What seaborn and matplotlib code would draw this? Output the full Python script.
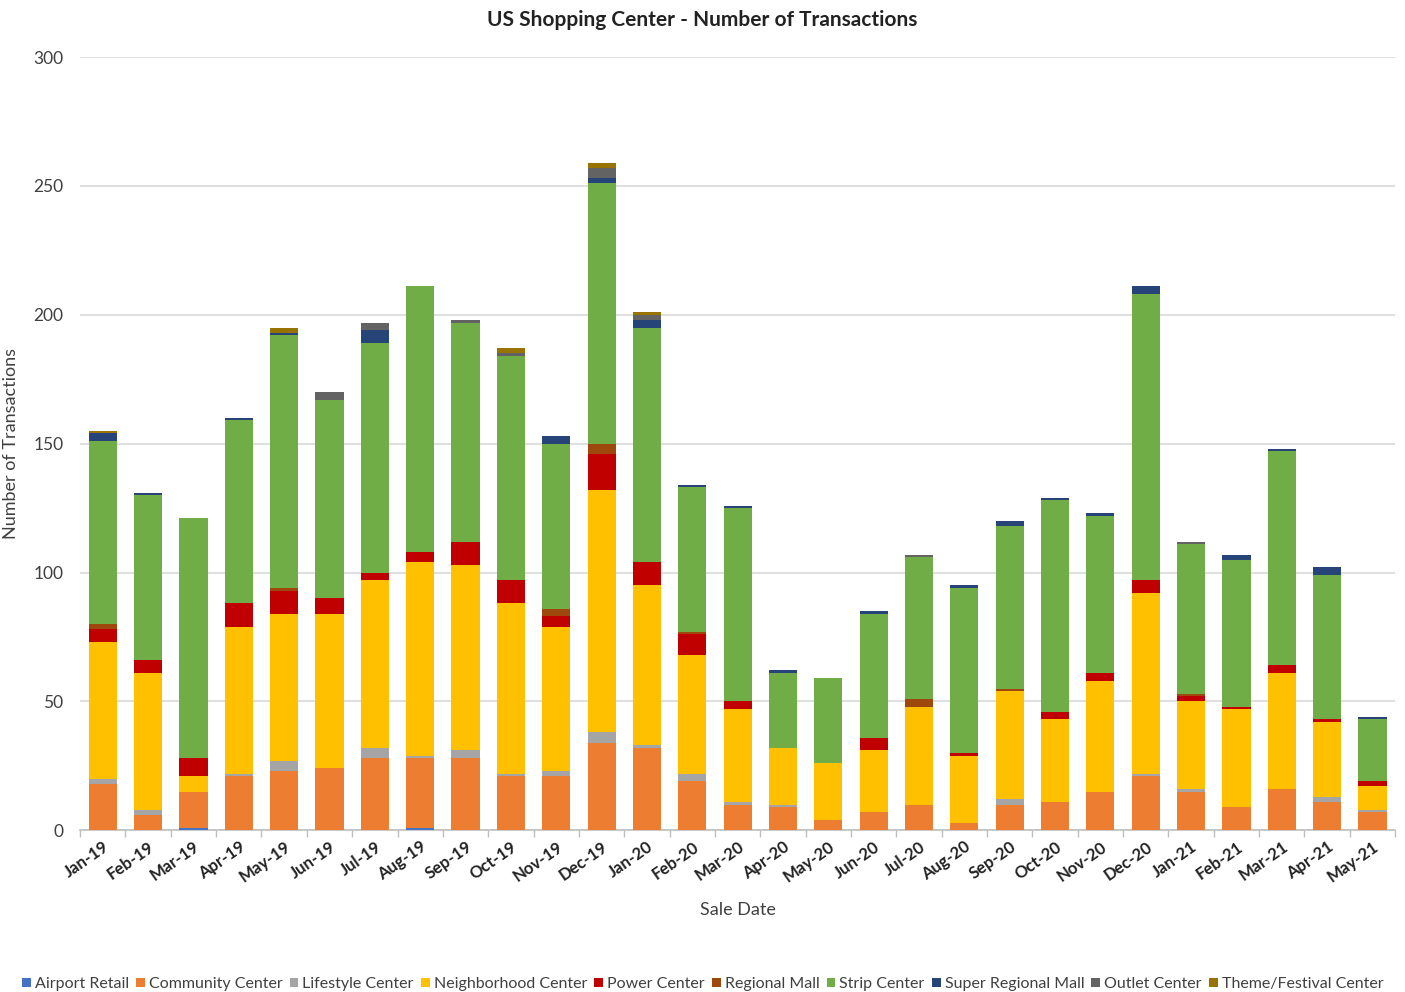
import numpy as np
import pandas as pd
import seaborn as sns
import matplotlib.pyplot as plt
from matplotlib.patches import Patch

# Data
months = ["Jan-19", "Feb-19", "Mar-19", "Apr-19", "May-19", "Jun-19", "Jul-19", "Aug-19",
          "Sep-19", "Oct-19", "Nov-19", "Dec-19", "Jan-20", "Feb-20", "Mar-20", "Apr-20",
          "May-20", "Jun-20", "Jul-20", "Aug-20", "Sep-20", "Oct-20", "Nov-20", "Dec-20",
          "Jan-21", "Feb-21", "Mar-21", "Apr-21", "May-21"]

airport_retail = [0, 0, 1, 0, 0, 0, 0, 1, 0, 0, 0, 0, 0, 0, 0, 0, 0, 0, 0, 0, 0, 0, 0, 0, 0, 0, 0, 0, 0]
community_center = [18, 6, 14, 21, 23, 24, 28, 27, 28, 21, 21, 34, 32, 19, 10, 9, 4, 7, 10, 3, 10, 11, 15, 21, 15, 9, 16, 11, 7]
lifestyle_center = [2, 2, 0, 1, 4, 0, 4, 1, 3, 1, 2, 4, 1, 3, 1, 1, 0, 0, 0, 0, 2, 0, 0, 1, 1, 0, 0, 2, 1]
neighborhood_center = [53, 53, 6, 57, 57, 60, 65, 75, 72, 66, 56, 94, 62, 46, 36, 22, 22, 24, 38, 26, 42, 32, 43, 70, 34, 38, 45, 29, 9]
power_center = [5, 5, 7, 9, 9, 6, 3, 4, 9, 9, 4, 14, 9, 8, 3, 0, 0, 5, 0, 1, 0, 3, 3, 5, 2, 1, 3, 1, 2]
regional_mall = [2, 0, 0, 0, 1, 0, 0, 0, 0, 0, 3, 4, 0, 1, 0, 0, 0, 0, 3, 0, 1, 0, 0, 0, 1, 0, 0, 0, 0]
strip_center = [71, 64, 93, 71, 98, 77, 89, 103, 85, 87, 64, 101, 91, 56, 75, 29, 33, 48, 55, 64, 63, 82, 61, 111, 58, 57, 83, 56, 24]
super_regional_mall = [3, 1, 0, 1, 1, 0, 5, 0, 0, 0, 3, 2, 3, 1, 1, 1, 0, 1, 0, 1, 2, 1, 1, 3, 0, 2, 1, 3, 1]
outlet_center = [0, 0, 0, 0, 0, 3, 3, 0, 1, 1, 0, 4, 2, 0, 0, 0, 0, 0, 1, 0, 0, 0, 0, 0, 1, 0, 0, 0, 0]
theme_festival_center = [1, 0, 0, 0, 2, 0, 0, 0, 0, 2, 0, 2, 1, 0, 0, 0, 0, 0, 0, 0, 0, 0, 0, 0, 0, 0, 0, 0, 0]

series_names = ["Airport Retail", "Community Center", "Lifestyle Center", "Neighborhood Center",
                "Power Center", "Regional Mall", "Strip Center", "Super Regional Mall",
                "Outlet Center", "Theme/Festival Center"]
series_colors = ["#4472C4", "#ED7D31", "#A5A5A5", "#FFC000", "#C00000",
                 "#9E480E", "#70AD47", "#264478", "#636363", "#997300"]

df = pd.DataFrame({
    "Airport Retail": airport_retail,
    "Community Center": community_center,
    "Lifestyle Center": lifestyle_center,
    "Neighborhood Center": neighborhood_center,
    "Power Center": power_center,
    "Regional Mall": regional_mall,
    "Strip Center": strip_center,
    "Super Regional Mall": super_regional_mall,
    "Outlet Center": outlet_center,
    "Theme/Festival Center": theme_festival_center,
}, index=months)
cum = df[series_names].cumsum(axis=1)

sns.set_theme(style="white")
plt.rcParams["font.family"] = ["Lato", "DejaVu Sans"]

fig = plt.figure(figsize=(14.05, 9.92), dpi=100)
ax = fig.add_axes([0.057, 0.163, 0.936, 0.7795])

# stacked bars: draw cumulative totals from the top series down
for name, color in zip(reversed(series_names), reversed(series_colors)):
    sns.barplot(x=months, y=cum[name].values, color=color, saturation=1,
                width=0.62, ax=ax, linewidth=0, zorder=3)

ax.set_ylim(0, 300)
ax.set_xlim(-0.5, len(months) - 0.5)
ax.set_yticks(np.arange(0, 301, 50))
ax.yaxis.grid(True, color="#D9D9D9", linewidth=1.2, zorder=0)
ax.set_axisbelow(True)
for s in ["top", "right", "left"]:
    ax.spines[s].set_visible(False)
ax.spines["bottom"].set_color("#BFBFBF")
ax.spines["bottom"].set_linewidth(1.2)

ax.tick_params(axis="y", length=0, labelsize=12.5, labelcolor="#404040", pad=12)
ax.set_xticks(np.arange(len(months)))
ax.set_xticklabels(months, rotation=35, ha="right", rotation_mode="anchor",
                   fontsize=12, color="#222222", fontweight="bold")
ax.tick_params(axis="x", length=0, pad=6)
# minor ticks between categories like the Excel axis
ax.set_xticks(np.arange(-0.5, len(months), 1), minor=True)
ax.tick_params(axis="x", which="minor", length=5, color="#BFBFBF", width=1, bottom=True)

ax.set_xlabel("Sale Date", fontsize=13, color="#404040", labelpad=12)
ax.set_ylabel("Number of Transactions", fontsize=13, color="#404040", labelpad=10)
fig.suptitle("US Shopping Center - Number of Transactions", y=0.99,
             fontsize=15, fontweight="bold", color="#222222")

handles = [Patch(facecolor=c, edgecolor="none", label=n) for n, c in zip(series_names, series_colors)]
fig.legend(handles=handles, loc="center", bbox_to_anchor=(0.5, 0.008), ncol=10,
           frameon=False, fontsize=11.5, handlelength=0.55, handleheight=0.55,
           handletextpad=0.25, columnspacing=0.45, labelcolor="#404040")

fig.savefig("out.png", dpi=100)
